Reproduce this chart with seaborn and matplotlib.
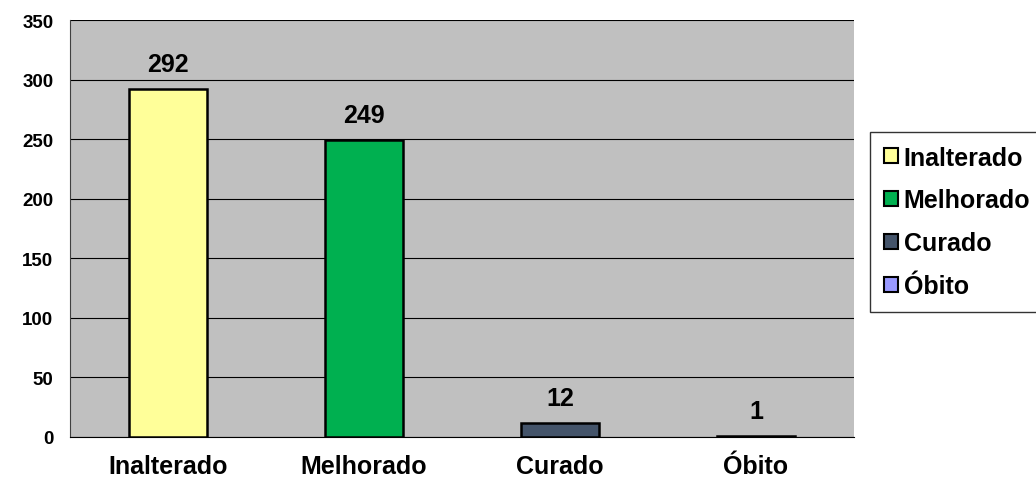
import matplotlib
matplotlib.use("Agg")
import matplotlib.pyplot as plt
import seaborn as sns
import pandas as pd
import numpy as np
from matplotlib.patches import Patch

# Chart data
categories = ["Inalterado", "Melhorado", "Curado", "Óbito"]
values = [292, 249, 12, 1]
bar_colors = ["#FFFF99", "#00B050", "#44546A", "#9999FF"]
y_ticks = [0, 50, 100, 150, 200, 250, 300, 350]

sns.set_style("white")
plt.rcParams["font.family"] = ["Liberation Sans", "DejaVu Sans"]
plt.rcParams["font.weight"] = "bold"
plt.rcParams["text.color"] = "black"
plt.rcParams["xtick.labelcolor"] = "black"
plt.rcParams["ytick.labelcolor"] = "black"

df = pd.DataFrame({"categoria": categories, "valor": values})

fig = plt.figure(figsize=(10.36, 4.81), dpi=100)
ax = fig.add_axes([0.0676, 0.0894, 0.7566, 0.8666])

sns.barplot(
    data=df, x="categoria", y="valor", hue="categoria",
    palette=bar_colors, order=categories, hue_order=categories,
    width=0.4, edgecolor="black", linewidth=1.8, legend=False,
    saturation=1, ax=ax, zorder=3,
)

ax.set_facecolor("#C0C0C0")
ax.set_ylim(0, 350)
ax.set_xlim(-0.5, len(categories) - 0.5)
ax.set_yticks(y_ticks)
ax.set_yticklabels([str(t) for t in y_ticks], fontsize=13.5, fontweight="bold")
ax.yaxis.grid(True, color="black", linewidth=0.8, zorder=0)
ax.set_axisbelow(True)

# category labels centered, ticks at the boundaries
ax.set_xticks(np.arange(len(categories)))
ax.set_xticklabels(categories, fontsize=18, fontweight="bold")
ax.tick_params(axis="x", length=0, pad=12)
ax.set_xticks(np.arange(len(categories) + 1) - 0.5, minor=True)
ax.tick_params(axis="x", which="minor", length=6, width=1, color="#404040", direction="out")
ax.tick_params(axis="y", length=6, width=1, color="#404040", direction="out", pad=6)
ax.set_xlabel("")
ax.set_ylabel("")

for s in ["top", "right"]:
    ax.spines[s].set_visible(False)
ax.spines["left"].set_color("#404040")
ax.spines["bottom"].set_color("black")

# value labels
for i, v in enumerate(values):
    ax.text(i, v + 11, str(v), ha="center", va="bottom", fontsize=18, fontweight="bold")

handles = [Patch(facecolor=c, edgecolor="black", linewidth=1.5) for c in bar_colors]
leg = fig.legend(
    handles, categories, loc="upper left", bbox_to_anchor=(0.8398, 0.7235),
    frameon=True, fancybox=False, edgecolor="black",
    handlelength=0.55, handleheight=0.55, handletextpad=0.25, labelspacing=0.75,
    borderpad=0.55, borderaxespad=0, prop={"weight": "bold", "size": 18},
)
leg.get_frame().set_linewidth(1.0)

fig.savefig("out.png", dpi=100)
